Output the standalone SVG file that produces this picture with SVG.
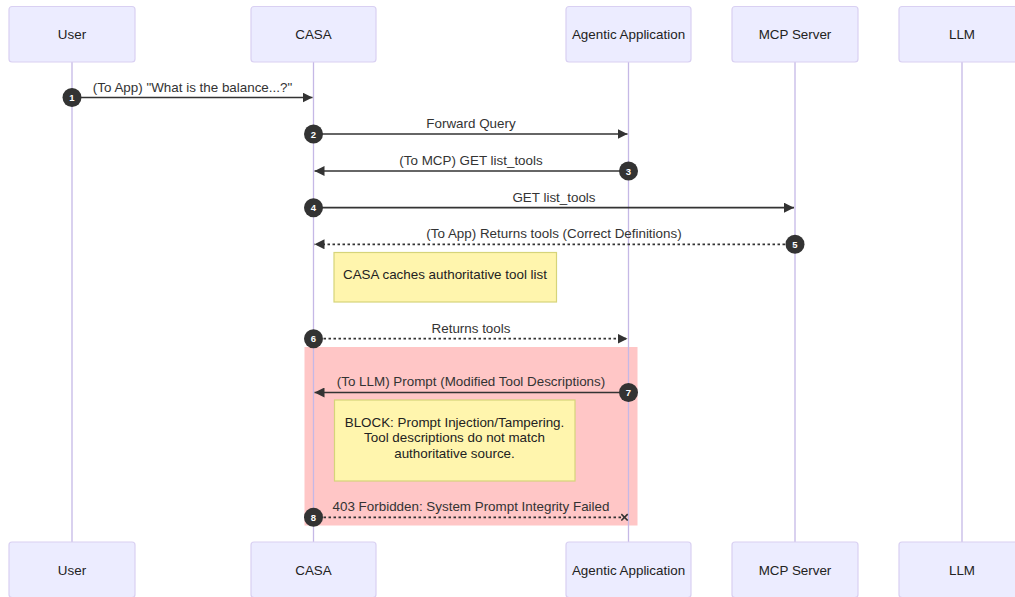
<svg xmlns="http://www.w3.org/2000/svg" width="1015" height="597" viewBox="0 0 1015 597">
<style>
.actor{fill:#ECECFF;stroke:#D9D0F2;stroke-width:1.2}
.atext{font-family:"Liberation Sans",Arial,sans-serif;font-size:13.4px;fill:#222;text-anchor:middle}
.life{stroke:#C5B8E6;stroke-width:1.3}
.msg{stroke:#333;stroke-width:1.7;fill:none}
.dot{stroke-dasharray:2.5,2.5}
.mtext{font-family:"Liberation Sans",Arial,sans-serif;font-size:13.4px;fill:#333;text-anchor:middle}
.num{fill:#333}
.ntext{font-family:"Liberation Sans",Arial,sans-serif;font-size:9.5px;font-weight:bold;fill:#fff;text-anchor:middle}
.note{fill:#FFF5AD;stroke:#D6D47A;stroke-width:1.2}
.notetext{font-family:"Liberation Sans",Arial,sans-serif;font-size:13.4px;fill:#222;text-anchor:middle}
</style>
<defs>
<marker id="arrow" viewBox="0 0 10 10" refX="10" refY="5" markerWidth="10" markerHeight="10" markerUnits="userSpaceOnUse" orient="auto">
<path d="M0,0 L10,5 L0,10 z" fill="#333"/>
</marker>
<marker id="cross" viewBox="0 0 10 10" refX="5" refY="5" markerWidth="8" markerHeight="8" markerUnits="userSpaceOnUse" orient="auto">
<path d="M1,1 L9,9 M9,1 L1,9" stroke="#333" stroke-width="2"/>
</marker>
</defs>
<rect x="0" y="0" width="1015" height="597" fill="#fff"/>
<rect id="critical" x="304.5" y="347" width="333" height="178.5" fill="#FFC6C6"/>
<g id="lifelines">
<line class="life" x1="72" y1="62" x2="72" y2="542"/>
<line class="life" x1="313.5" y1="62" x2="313.5" y2="542"/>
<line class="life" x1="628.5" y1="62" x2="628.5" y2="542"/>
<line class="life" x1="795" y1="62" x2="795" y2="542"/>
<line class="life" x1="962" y1="62" x2="962" y2="542"/>
</g>
<g id="actor-user-top"><rect class="actor" x="9" y="6.5" width="126" height="55.5" rx="3"/><text class="atext" x="72" y="39">User</text></g>
<g id="actor-casa-top"><rect class="actor" x="251" y="6.5" width="125" height="55.5" rx="3"/><text class="atext" x="313.5" y="39">CASA</text></g>
<g id="actor-app-top"><rect class="actor" x="566" y="6.5" width="125" height="55.5" rx="3"/><text class="atext" x="628.5" y="39">Agentic Application</text></g>
<g id="actor-mcp-top"><rect class="actor" x="732" y="6.5" width="126" height="55.5" rx="3"/><text class="atext" x="795" y="39">MCP Server</text></g>
<g id="actor-llm-top"><rect class="actor" x="899" y="6.5" width="126" height="55.5" rx="3"/><text class="atext" x="962" y="39">LLM</text></g>
<g id="actor-user-bottom"><rect class="actor" x="9" y="542" width="126" height="55.5" rx="3"/><text class="atext" x="72" y="575">User</text></g>
<g id="actor-casa-bottom"><rect class="actor" x="251" y="542" width="125" height="55.5" rx="3"/><text class="atext" x="313.5" y="575">CASA</text></g>
<g id="actor-app-bottom"><rect class="actor" x="566" y="542" width="125" height="55.5" rx="3"/><text class="atext" x="628.5" y="575">Agentic Application</text></g>
<g id="actor-mcp-bottom"><rect class="actor" x="732" y="542" width="126" height="55.5" rx="3"/><text class="atext" x="795" y="575">MCP Server</text></g>
<g id="actor-llm-bottom"><rect class="actor" x="899" y="542" width="126" height="55.5" rx="3"/><text class="atext" x="962" y="575">LLM</text></g>
<g id="note-cache"><rect class="note" x="334" y="252.5" width="222.5" height="49.5"/><text class="notetext" x="445" y="279">CASA caches authoritative tool list</text></g>
<g id="note-block"><rect class="note" x="334.5" y="400" width="240.5" height="81"/>
<text class="notetext" x="454.5" y="426.5">BLOCK: Prompt Injection/Tampering.</text>
<text class="notetext" x="454.5" y="442">Tool descriptions do not match</text>
<text class="notetext" x="454.5" y="457.5">authoritative source.</text></g>
<g id="connectors">
<line class="msg" x1="72" y1="97.5" x2="312.5" y2="97.5" marker-end="url(#arrow)"/>
<text class="mtext" x="192.5" y="92">(To App) "What is the balance...?"</text>
<line class="msg" x1="313.5" y1="134" x2="627.5" y2="134" marker-end="url(#arrow)"/>
<text class="mtext" x="471" y="128">Forward Query</text>
<line class="msg" x1="628.5" y1="171" x2="314.5" y2="171" marker-end="url(#arrow)"/>
<text class="mtext" x="471" y="165">(To MCP) GET list_tools</text>
<line class="msg" x1="313.5" y1="207.7" x2="794" y2="207.7" marker-end="url(#arrow)"/>
<text class="mtext" x="554" y="201.5">GET list_tools</text>
<line class="msg dot" x1="795" y1="244.3" x2="314.5" y2="244.3" marker-end="url(#arrow)"/>
<text class="mtext" x="554" y="238">(To App) Returns tools (Correct Definitions)</text>
<line class="msg dot" x1="313.5" y1="338.7" x2="627.5" y2="338.7" marker-end="url(#arrow)"/>
<text class="mtext" x="471" y="332.5">Returns tools</text>
<line class="msg" x1="628.5" y1="392.5" x2="314.5" y2="392.5" marker-end="url(#arrow)"/>
<text class="mtext" x="471" y="386">(To LLM) Prompt (Modified Tool Descriptions)</text>
<line class="msg dot" x1="313.5" y1="517.3" x2="624.5" y2="517.3" marker-end="url(#cross)"/>
<text class="mtext" x="471" y="511">403 Forbidden: System Prompt Integrity Failed</text>
</g>
<g id="sequence-numbers">
<circle class="num" cx="72" cy="97.5" r="9.5"/><text class="ntext" x="72" y="101">1</text>
<circle class="num" cx="313.5" cy="134" r="9.5"/><text class="ntext" x="313.5" y="137.5">2</text>
<circle class="num" cx="628.5" cy="171" r="9.5"/><text class="ntext" x="628.5" y="174.5">3</text>
<circle class="num" cx="313.5" cy="207.7" r="9.5"/><text class="ntext" x="313.5" y="211.2">4</text>
<circle class="num" cx="795" cy="244.3" r="9.5"/><text class="ntext" x="795" y="247.8">5</text>
<circle class="num" cx="313.5" cy="338.7" r="9.5"/><text class="ntext" x="313.5" y="342.2">6</text>
<circle class="num" cx="628.5" cy="392.5" r="9.5"/><text class="ntext" x="628.5" y="396">7</text>
<circle class="num" cx="313.5" cy="517.3" r="9.5"/><text class="ntext" x="313.5" y="520.8">8</text>
</g>
</svg>
